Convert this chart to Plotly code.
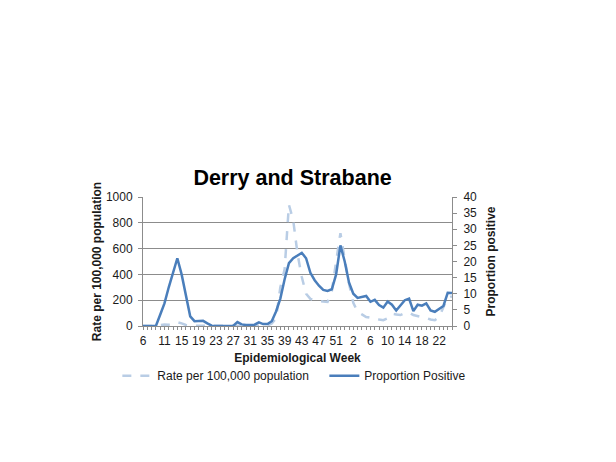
import plotly.graph_objects as go

# epidemiological weeks, 2020 (weeks 6-53) then 2021 (weeks 1-25)
weeks = [6, 7, 8, 9, 10, 11, 12, 13, 14, 15, 16, 17, 18, 19, 20, 21, 22, 23, 24, 25,
         26, 27, 28, 29, 30, 31, 32, 33, 34, 35, 36, 37, 38, 39, 40, 41, 42, 43, 44, 45,
         46, 47, 48, 49, 50, 51, 52, 53, 1, 2, 3, 4, 5, 6, 7, 8, 9, 10, 11, 12,
         13, 14, 15, 16, 17, 18, 19, 20, 21, 22, 23, 24, 25]

rate = [0, 0, 0, 0, 8, 12, 10, 18, 30, 20, 8, 3, 2, 3, 2, 1, 1, 1, 1, 1,
        1, 1, 5, 3, 3, 3, 3, 3, 3, 3, 20, 60, 300, 440, 940, 820, 560, 380, 250, 210,
        200, 192, 190, 186, 270, 500, 720, 520, 330, 180, 110, 90, 70, 64, 60, 50, 45, 60, 95, 90,
        85, 100, 105, 85, 78, 72, 62, 50, 45, 70, 150, 220, 230]

positive = [0, 0, 0, 0, 3.5, 7, 12, 16.3, 21, 16, 9, 3, 1.5, 1.5, 1.6, 0.8, 0.1, 0, 0, 0,
            0, 0, 1.2, 0.5, 0.3, 0.3, 0.4, 1.1, 0.6, 0.6, 1.5, 4.5, 8.5, 14.5, 19.5, 21, 21.8, 22.7, 21, 16.5,
            14.2, 12.5, 11.2, 10.9, 11.4, 16, 25, 20, 13.5, 10, 8.7, 8.9, 9.3, 7.5, 8.1, 6.5, 5.7, 7.6, 6.6, 4.8,
            6.5, 8, 8.5, 4.6, 6.6, 6.3, 7, 4.8, 4.4, 5.3, 6.2, 10.3, 10.2]

tick_weeks = [6, 11, 15, 19, 23, 27, 31, 35, 39, 43, 47, 51, 2, 6, 10, 14, 18, 22]

x = list(range(len(weeks)))

# place each tick label on the next matching week in order
tick_pos = []
start = 0
for w in tick_weeks:
    i = weeks.index(w, start)
    tick_pos.append(i)
    start = i + 1

FONT = "Liberation Sans, Arial, sans-serif"
GRID = "#8c8c8c"

fig = go.Figure()
fig.add_trace(go.Scatter(
    x=x, y=rate, name="Rate per 100,000 population", mode="lines",
    line=dict(color="#b9cde5", width=2.5, dash="dash"), yaxis="y"))
fig.add_trace(go.Scatter(
    x=x, y=positive, name="Proportion Positive", mode="lines",
    line=dict(color="#4a7ebb", width=2.5), yaxis="y2"))

fig.update_layout(
    width=616, height=462,
    margin=dict(l=135, r=172, t=189, b=144),
    paper_bgcolor="white", plot_bgcolor="white",
    font=dict(family=FONT, size=12, color="#1a1a1a"),
    showlegend=True,
    title=dict(text="<b>Derry and Strabane</b>", x=0.484, xref="paper",
               y=1 - 169 / 462, yref="container", yanchor="middle",
               font=dict(size=21.5, color="#000000")),
    xaxis=dict(range=[0, len(weeks) - 1], tickmode="array", tickvals=tick_pos,
               ticktext=[str(w) for w in tick_weeks], ticks="", showgrid=False,
               showline=True, linecolor=GRID, linewidth=1, zeroline=False,
               tickfont=dict(size=12), ticklabelstandoff=4, automargin=False,
               minor=dict(tickmode="linear", tick0=0, dtick=1, ticks="outside",
                          ticklen=3, tickcolor=GRID, showgrid=False),
               title=dict(text="<b>Epidemiological Week</b>", font=dict(size=12), standoff=6)),
    yaxis=dict(range=[0, 1000], dtick=200, showgrid=True, gridcolor=GRID, gridwidth=1,
               showline=True, linecolor=GRID, ticks="outside", ticklen=4, tickcolor=GRID,
               zeroline=False, tickfont=dict(size=12), ticklabelstandoff=3, automargin=False,
               title=dict(text="<b>Rate per 100,000 population</b>", font=dict(size=12), standoff=1)),
    yaxis2=dict(range=[0, 40], dtick=5, overlaying="y", side="right", showgrid=False,
                showline=True, linecolor=GRID, ticks="outside", ticklen=4, tickcolor=GRID,
                zeroline=False, tickfont=dict(size=12), ticklabelstandoff=4, automargin=False,
                title=dict(text="<b>Proportion positive</b>", font=dict(size=12), standoff=10)),
    legend=dict(orientation="h", x=-0.083, xanchor="left", y=-0.385, yanchor="middle",
                font=dict(size=12), entrywidth=162, bgcolor="rgba(0,0,0,0)"),
)

fig.write_html("out.html")
